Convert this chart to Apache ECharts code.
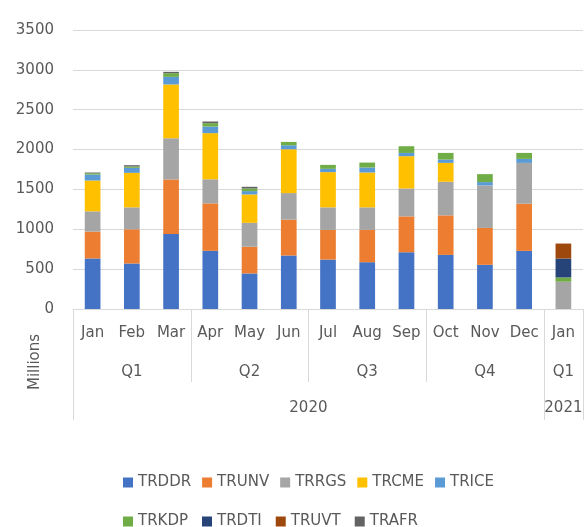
<!DOCTYPE html>
<html>
<head>
<meta charset="utf-8">
<script src="https://cdn.jsdelivr.net/npm/echarts@6/dist/echarts.min.js"></script>
<style>
  html, body { margin: 0; padding: 0; background: #ffffff; }
  #chart { width: 585px; height: 527px; }
</style>
</head>
<body>
<div id="chart"></div>
<script>
// ---- data ----
const months = ['Jan','Feb','Mar','Apr','May','Jun','Jul','Aug','Sep','Oct','Nov','Dec','Jan'];
const quarters = ['Q1','Q2','Q3','Q4','Q1'];
const quarterSpans = [3,3,3,3,1];
const years = ['2020','2021'];
const yearSpans = [12,1];
const yMin = 0, yMax = 3500, yStep = 500;
const seriesNames = ['TRDDR','TRUNV','TRRGS','TRCME','TRICE','TRKDP','TRDTI','TRUVT','TRAFR'];
const TRDDR = [634,571,941,730,446,671,620,587,712,679,554,729,null];
const TRUNV = [337,429,684,595,335,450,372,405,450,496,463,592,null];
const TRRGS = [254,275,517,302,300,333,283,283,350,421,533,512,342];
const TRCME = [387,433,675,579,356,550,442,437,405,237,null,null,null];
const TRICE = [75,63,95,83,42,50,41,63,41,42,42,50,null];
const TRKDP = [17,16,46,42,33,42,50,62,84,83,100,75,54];
const TRDTI = [null,null,null,null,null,null,null,null,null,null,null,null,237];
const TRUVT = [null,null,null,null,null,null,null,null,null,null,null,null,188];
const TRAFR = [8,17,17,21,21,null,null,null,null,null,null,null,null];
const seriesValues = [TRDDR,TRUNV,TRRGS,TRCME,TRICE,TRKDP,TRDTI,TRUVT,TRAFR];
const colors = ['#4472C4','#ED7D31','#A5A5A5','#FFC000','#5B9BD5','#70AD47','#264478','#9E480E','#636363'];

// ---- chart ----
const FONT = 'DejaVu Sans';
const TXT = '#595959';
const GRIDC = '#D9D9D9';
const chart = echarts.init(document.getElementById('chart'), null, {renderer: 'canvas'});

const option = {
  animation: false,
  backgroundColor: '#ffffff',
  color: colors,
  grid: { left: 73, right: 2, top: 30, bottom: 218, containLabel: false },
  legend: [
    {
      data: seriesNames.slice(0,5), left: 123, top: 475, padding: 0, itemWidth: 10, itemHeight: 10, itemGap: 11,
      icon: 'rect', textStyle: { color: TXT, fontSize: 15, fontFamily: FONT }
    },
    {
      data: seriesNames.slice(5), left: 123, top: 514, padding: 0, itemWidth: 10, itemHeight: 10, itemGap: 14,
      icon: 'rect', textStyle: { color: TXT, fontSize: 15, fontFamily: FONT }
    }
  ],
  xAxis: {
    type: 'category',
    data: months,
    axisLine: { show: true, lineStyle: { color: GRIDC, width: 1 } },
    axisTick: { show: false },
    axisLabel: { color: TXT, fontSize: 15, fontFamily: FONT, margin: 17, interval: 0 },
    splitLine: { show: false }
  },
  yAxis: {
    type: 'value',
    min: yMin, max: yMax, interval: yStep,
    axisLine: { show: false },
    axisTick: { show: false },
    axisLabel: { color: TXT, fontSize: 15, fontFamily: FONT, margin: 19, formatter: v => String(v) },
    splitLine: { show: true, lineStyle: { color: GRIDC, width: 1 } }
  },
  series: seriesNames.map((n, i) => ({
    name: n,
    type: 'bar',
    stack: 'total',
    barWidth: '40%',
    data: seriesValues[i],
    itemStyle: { color: colors[i] }
  }))
};
chart.setOption(option);

function decor() {
  const c0 = chart.convertToPixel({xAxisIndex: 0}, 0);
  const c1 = chart.convertToPixel({xAxisIndex: 0}, 1);
  const bw = c1 - c0;
  const xStart = c0 - bw / 2;
  const y0 = chart.convertToPixel({yAxisIndex: 0}, 0);
  const bx = i => Math.round(xStart + i * bw) + 0.5;
  const g = [];
  const shortLen = 73, longLen = 111;
  const yearBounds = new Set([0]);
  let acc = 0;
  yearSpans.forEach(s => { acc += s; yearBounds.add(acc); });
  const qBounds = new Set([0]);
  acc = 0;
  quarterSpans.forEach(s => { acc += s; qBounds.add(acc); });
  const allB = new Set([...qBounds, ...yearBounds]);
  allB.forEach(b => {
    const len = yearBounds.has(b) ? longLen : shortLen;
    g.push({ type: 'line', silent: true, shape: { x1: bx(b), y1: y0, x2: bx(b), y2: y0 + len },
      style: { stroke: GRIDC, lineWidth: 1 } });
  });
  acc = 0;
  quarters.forEach((q, i) => {
    const mid = xStart + (acc + quarterSpans[i] / 2) * bw;
    acc += quarterSpans[i];
    g.push({ type: 'text', silent: true, x: mid, y: y0 + 63,
      style: { text: q, fill: TXT, font: '15px "' + FONT + '"', align: 'center', verticalAlign: 'middle' } });
  });
  acc = 0;
  years.forEach((yv, i) => {
    const mid = xStart + (acc + yearSpans[i] / 2) * bw;
    acc += yearSpans[i];
    g.push({ type: 'text', silent: true, x: mid, y: y0 + 99,
      style: { text: yv, fill: TXT, font: '15px "' + FONT + '"', align: 'center', verticalAlign: 'middle' } });
  });
  g.push({ type: 'text', silent: true, x: 35, y: y0 + 53, rotation: Math.PI / 2,
    style: { text: 'Millions', fill: TXT, font: '15px "' + FONT + '"', align: 'center', verticalAlign: 'middle' } });
  chart.setOption({ graphic: g });
}
decor();
</script>
</body>
</html>
